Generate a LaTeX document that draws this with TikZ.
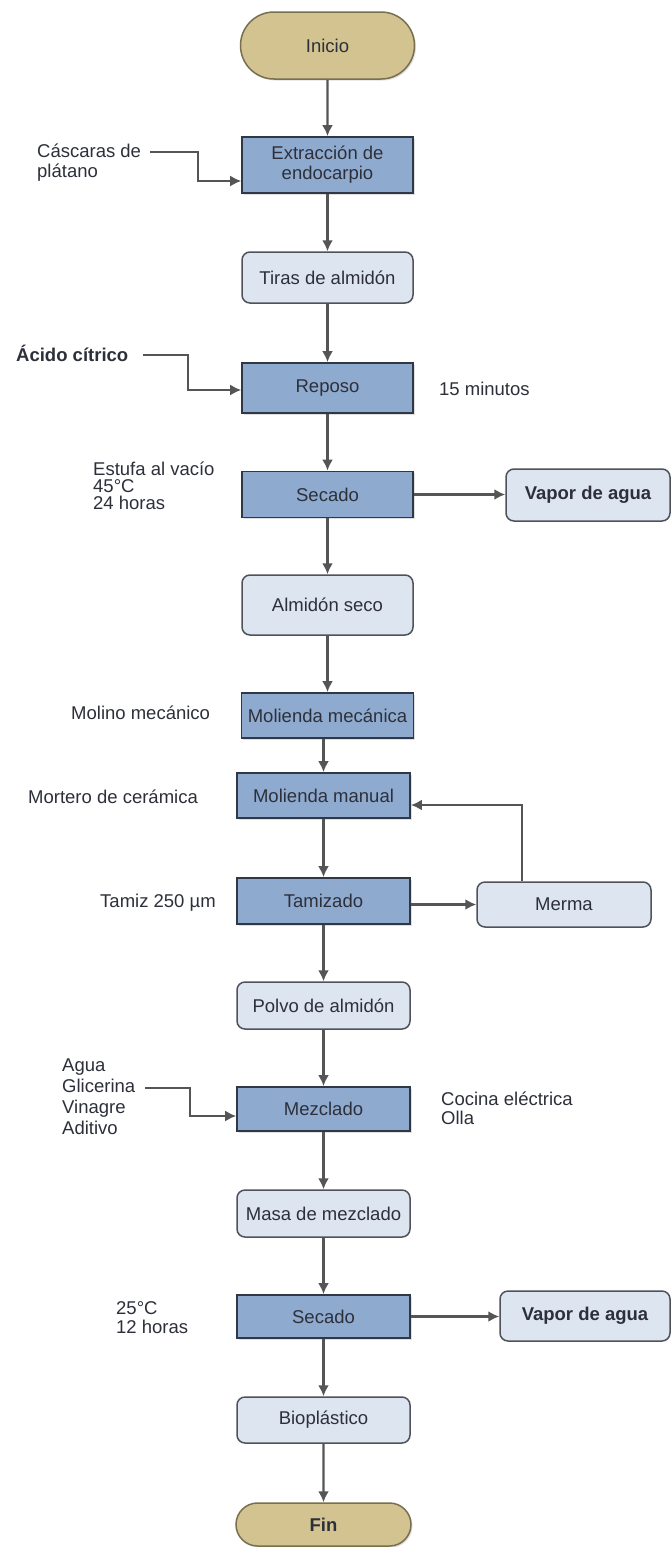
\documentclass[tikz,border=0pt]{standalone}
\usepackage{fontspec}
\setmainfont{Liberation Sans}
\usetikzlibrary{arrows.meta,shapes.misc,shadows}
\definecolor{procfill}{RGB}{143,170,207}
\definecolor{procdraw}{RGB}{48,56,70}
\definecolor{prodfill}{RGB}{221,229,241}
\definecolor{proddraw}{RGB}{80,82,90}
\definecolor{termfill}{RGB}{210,195,145}
\definecolor{termdraw}{RGB}{120,110,80}
\definecolor{arr}{RGB}{85,85,85}
\definecolor{txt}{RGB}{45,48,58}
\begin{document}
\begin{tikzpicture}[x=1pt,y=-1pt,
  font=\fontsize{18.5}{20}\selectfont, text=txt,
  proc/.style={draw=procdraw, fill=procfill, line width=1.8pt, inner sep=0pt, align=center,
    drop shadow={opacity=0.25, shadow xshift=1.5pt, shadow yshift=-1.5pt}},
  prod/.style={draw=proddraw, fill=prodfill, rounded corners=8pt, line width=1.5pt, inner sep=0pt, align=center},
  term/.style={rounded rectangle, draw=termdraw, fill=termfill, line width=1.5pt, inner sep=0pt,
    drop shadow={opacity=0.25, shadow xshift=1.5pt, shadow yshift=-1.5pt}},
  flow/.style={draw=arr, line width=2.2pt, -{Latex[length=11pt,width=11pt]}},
  feed/.style={draw=arr, line width=1.6pt, -{Latex[length=11pt,width=11pt]}},
  lbl/.style={anchor=west, inner sep=0pt, align=left}]
\useasboundingbox (0,0) rectangle (671,1547);
\fill[white] (0,0) rectangle (671,1547);

% main column
\node[term, minimum width=174pt, minimum height=67pt] (inicio) at (327.5,45.5) {Inicio};
\node[proc, minimum width=171pt, minimum height=56pt] (extr) at (327.5,165) {Extracción de\\endocarpio};
\node[prod, minimum width=171pt, minimum height=51pt] (tiras) at (327.5,277.5) {Tiras de almidón};
\node[proc, minimum width=171pt, minimum height=50pt] (reposo) at (327.5,388) {Reposo};
\node[proc, minimum width=171pt, minimum height=46pt] (secado1) at (327.5,494.5) {Secado};
\node[prod, minimum width=171pt, minimum height=60pt] (almseco) at (327.5,605) {Almidón seco};
\node[proc, minimum width=172pt, minimum height=45pt] (molmec) at (327.5,715.5) {Molienda mecánica};
\node[proc, minimum width=173pt, minimum height=45pt] (molman) at (323.5,795.5) {Molienda manual};
\node[proc, minimum width=173pt, minimum height=46pt] (tamiz) at (323.5,901) {Tamizado};
\node[prod, minimum width=173pt, minimum height=47pt] (polvo) at (323.5,1005.5) {Polvo de almidón};
\node[proc, minimum width=173pt, minimum height=44pt] (mezcl) at (323.5,1109) {Mezclado};
\node[prod, minimum width=173pt, minimum height=47pt] (masa) at (323.5,1213.5) {Masa de mezclado};
\node[proc, minimum width=173pt, minimum height=43pt] (secado2) at (323.5,1316.5) {Secado};
\node[prod, minimum width=173pt, minimum height=46pt] (bio) at (323.5,1420) {Bioplástico};
\node[term, minimum width=175pt, minimum height=43pt, font=\fontsize{18.5}{20}\selectfont\bfseries] (fin) at (323.5,1524.5) {Fin};

% side outputs
\node[prod, minimum width=164pt, minimum height=52pt, font=\fontsize{18.5}{20}\selectfont\bfseries] (vapor1) at (588,495) {Vapor de agua};
\node[prod, minimum width=174pt, minimum height=45pt] (merma) at (564,904.5) {Merma};
\node[prod, minimum width=170pt, minimum height=50pt, font=\fontsize{18.5}{20}\selectfont\bfseries] (vapor2) at (585,1316) {Vapor de agua};

% labels
\node[lbl, font=\fontsize{18.5}{20}\selectfont] (cascaras) at (37,163) {Cáscaras de\\plátano};
\node[lbl, font=\fontsize{18.5}{20}\selectfont\bfseries] (acido) at (16,353) {Ácido cítrico};
\node[lbl] (minutos) at (439,389) {15 minutos};
\node[lbl, font=\fontsize{18.5}{17}\selectfont] (estufa) at (93,486) {Estufa al vacío\\45°C\\24 horas};
\node[lbl] (molino) at (71,713) {Molino mecánico};
\node[lbl] (mortero) at (28,797) {Mortero de cerámica};
\node[lbl] (tamlbl) at (100,903) {Tamiz 250 µm};
\node[lbl, font=\fontsize{18.5}{21}\selectfont] (ingred) at (62,1096.5) {Agua\\Glicerina\\Vinagre\\Aditivo};
\node[lbl, font=\fontsize{18.5}{19}\selectfont] (cocina) at (441,1108.5) {Cocina eléctrica\\Olla};
\node[lbl, font=\fontsize{18.5}{19}\selectfont] (temp) at (116,1317.5) {25°C\\12 horas};

% feed coordinates
\coordinate (f1) at (150,152);
\coordinate (f2) at (143,355);
\coordinate (f3) at (145,1088);

% main flow
\draw[flow] (inicio) -- (extr);
\draw[flow] (extr) -- (tiras);
\draw[flow] (tiras) -- (reposo);
\draw[flow] (reposo) -- (secado1);
\draw[flow] (secado1) -- (almseco);
\draw[flow] (almseco) -- (molmec);
\draw[flow] (molman.north |- molmec.south) -- (molman.north);
\draw[flow] (molman) -- (tamiz);
\draw[flow] (tamiz) -- (polvo);
\draw[flow] (polvo) -- (mezcl);
\draw[flow] (mezcl) -- (masa);
\draw[flow] (masa) -- (secado2);
\draw[flow] (secado2) -- (bio);
\draw[flow] (bio) -- (fin);

% side flows
\draw[flow] (secado1.east) -- (secado1.east -| vapor1.west);
\draw[flow] (tamiz.east |- merma.west) -- (merma.west);
\draw[flow] (merma.north -| 522,0) -- (522,805) -- (molman.east |- 0,805);
\draw[flow] (secado2.east) -- (secado2.east -| vapor2.west);

% feeds
\draw[feed] (f1) -- (198,152) -- (198,181) -- (extr.west |- 0,181);
\draw[feed] (f2) -- (188,355) -- (188,390) -- (reposo.west |- 0,390);
\draw[feed] (f3) -- (190,1088) -- (190,1116) -- (mezcl.west |- 0,1116);
\end{tikzpicture}
\end{document}
